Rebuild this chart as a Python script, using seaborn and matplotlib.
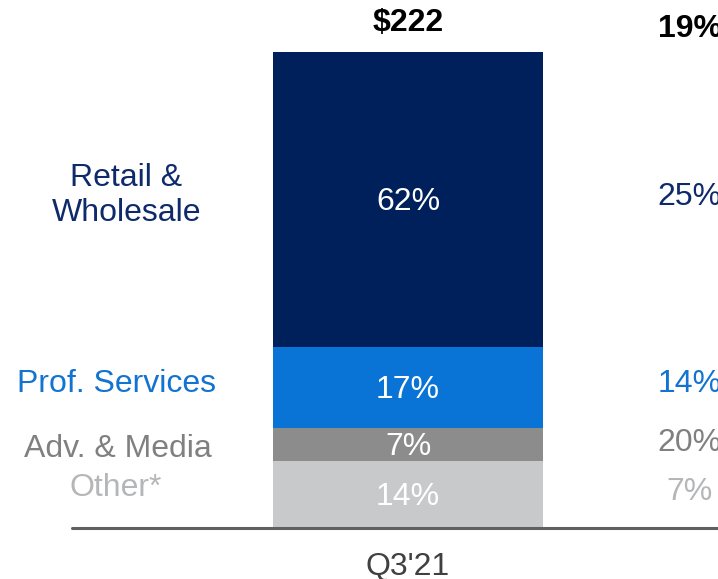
import matplotlib
matplotlib.use("Agg")
import matplotlib.pyplot as plt
import seaborn as sns
import pandas as pd

sns.set_theme(style="white")
plt.rcParams['font.family'] = ['Liberation Sans', 'DejaVu Sans']

# ---- data ----
period = ["Q3'21"]
segments = ["Other*", "Adv. & Media", "Prof. Services", "Retail &\nWholesale"]
shares = [14, 7, 17, 62]            # % of total, bottom to top
growth = ["7%", "20%", "14%", "25%"]  # right-hand column
total_label = "$222"
total_growth = "19%"

seg_colors = ["#C8C9CB", "#8C8C8C", "#0A74D6", "#00205B"]
label_colors = ["#B5B6B8", "#808080", "#1273D0", "#0F2A6B"]

# ---- figure ----
fig = plt.figure(figsize=(7.18, 5.79), dpi=100)
ax = fig.add_axes([0, 0, 1, 1])

cum = []
s = 0
for v in shares:
    s += v
    cum.append(s)

# draw stacked bars: tallest cumulative first
for i in reversed(range(len(shares))):
    df = pd.DataFrame({"period": period, "value": [cum[i]]})
    sns.barplot(data=df, x="period", y="value", color=seg_colors[i],
                saturation=1, width=0.8, ax=ax, linewidth=0)

ax.set_xlim(-1.209, 0.9185)
ax.set_ylim(-10.71, 110.92)
ax.axis("off")
ax.axhline(0, xmin=72 / 718, xmax=1, color="#5F6062", lw=2.2)

fs = 23
left_x = [-0.865, -0.86, -0.865, -0.835]
right_x = 0.835
left_nudge = [1.4, -0.9, 0.75, 0.9]
right_nudge = [0.6, 0.4, 0.75, 0.5]
for i, v in enumerate(shares):
    mid = cum[i] - v / 2
    ax.text(0, mid - 0.5, f"{v}%", ha="center", va="center", color="white", fontsize=fs)
    ax.text(left_x[i], mid + left_nudge[i], segments[i], ha="center", va="center",
            color=label_colors[i], fontsize=fs, linespacing=1.2)
    ax.text(right_x, mid + right_nudge[i], growth[i], ha="center", va="center",
            color=label_colors[i], fontsize=fs)

ax.text(0, 106.0, total_label, ha="center", va="center", color="black",
        fontsize=fs, fontweight="bold")
ax.text(right_x, 104.9, total_growth, ha="center", va="center", color="black",
        fontsize=fs, fontweight="bold")
ax.text(0, -8.1, period[0], ha="center", va="center", color="#404040", fontsize=fs)

fig.savefig("out.png", dpi=100)
